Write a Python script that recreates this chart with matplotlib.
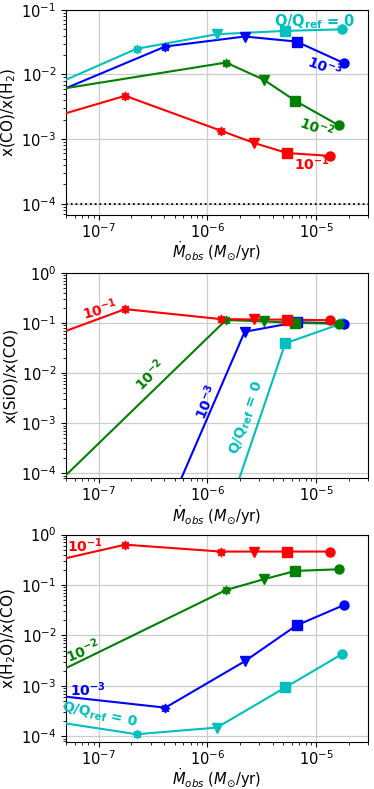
import numpy as np
import matplotlib
matplotlib.use("Agg")
import matplotlib.pyplot as plt

# mass-loss rates of the model points (first one is off the left edge)
x_red = [5e-8, 1.75e-7, 1.33e-6, 2.7e-6, 5.4e-6, 1.35e-5]
x_green = [5e-8, 1.48e-6, 3.3e-6, 6.45e-6, 1.62e-5]
x_blue = [5e-8, 4.1e-7, 2.2e-6, 6.6e-6, 1.8e-5]
x_cyan = [5e-8, 2.23e-7, 1.22e-6, 5.2e-6, 1.74e-5]

mk_red = ["", (8, 1, 0), (8, 1, 0), "v", "s", "o"]
mk_other = ["", (8, 1, 0), "v", "s", "o"]

# x(CO)/x(H2)
co_red = [2.52e-3, 4.68e-3, 1.35e-3, 8.7e-4, 6.1e-4, 5.5e-4]
co_green = [6.15e-3, 1.53e-2, 8.3e-3, 3.9e-3, 1.63e-3]
co_blue = [6.15e-3, 2.71e-2, 3.87e-2, 3.23e-2, 1.5e-2]
co_cyan = [8.3e-3, 2.5e-2, 4.2e-2, 4.73e-2, 5.0e-2]

# x(SiO)/x(CO)
sio_red = [0.0697, 0.19, 0.12, 0.118, 0.117, 0.114]
sio_green = [9.2e-5, 0.115, 0.108, 0.101, 0.097]
sio_blue = [1.5e-5, 1.45e-5, 0.067, 0.104, 0.098]
sio_cyan = [1e-6, 1e-6, 3.8e-6, 0.0394, 0.099]

# x(H2O)/x(CO)
h2o_red = [0.34, 0.63, 0.46, 0.46, 0.46, 0.46]
h2o_green = [2.25e-3, 0.0794, 0.13, 0.19, 0.205]
h2o_blue = [6.1e-4, 3.7e-4, 3.07e-3, 0.0158, 0.04]
h2o_cyan = [1.8e-4, 1.1e-4, 1.49e-4, 9.3e-4, 4.3e-3]

qlab = r"$\mathbf{Q/Q_{ref}}$ = 0"
lab1 = r"$\mathbf{10^{-1}}$"
lab2 = r"$\mathbf{10^{-2}}$"
lab3 = r"$\mathbf{10^{-3}}$"

fig = plt.figure(figsize=(3.74, 7.89), dpi=100)
ax1 = fig.add_axes([0.1765, 0.7275, 0.8075, 0.26])
ax2 = fig.add_axes([0.1765, 0.394, 0.8075, 0.26])
ax3 = fig.add_axes([0.1765, 0.0595, 0.8075, 0.263])


def draw(ax, xs, ys, col, mks):
    ax.plot(xs, ys, "-", color=col, lw=1.5, zorder=3)
    for i in range(len(xs)):
        if mks[i] == "":
            continue
        ax.plot(xs[i], ys[i], marker=mks[i], color=col, ms=6.5, ls="", zorder=4)


for ax, yr, yg, yb, yc in [(ax1, co_red, co_green, co_blue, co_cyan),
                           (ax2, sio_red, sio_green, sio_blue, sio_cyan),
                           (ax3, h2o_red, h2o_green, h2o_blue, h2o_cyan)]:
    draw(ax, x_cyan, yc, "c", mk_other)
    draw(ax, x_blue, yb, "b", mk_other)
    draw(ax, x_green, yg, "g", mk_other)
    draw(ax, x_red, yr, "r", mk_red)
    ax.set_xscale("log")
    ax.set_yscale("log")
    ax.set_xlim(5e-8, 3e-5)
    ax.grid(True, which="major", color="#cccccc", lw=0.9)
    ax.set_axisbelow(True)
    ax.tick_params(labelsize=10.5)
    ax.tick_params(axis="x", pad=2)
    ax.set_xlabel(r"$\dot{M}_{obs}$ ($M_{\odot}$/yr)", fontsize=10.5, labelpad=-1)

ax1.set_ylim(6.7e-5, 1e-1)
ax2.set_ylim(8e-5, 1)
ax3.set_ylim(7.7e-5, 1)

ax1.axhline(1e-4, color="k", ls=":", lw=1.3)

ax1.set_ylabel(r"x(CO)/x(H$_2$)", fontsize=11, labelpad=2)
ax2.set_ylabel("x(SiO)/x(CO)", fontsize=11, labelpad=2)
ax3.set_ylabel(r"x(H$_2$O)/x(CO)", fontsize=11, labelpad=2)

kw = dict(ha="center", va="center", fontsize=10, fontweight="bold")
ax1.text(9.6e-6, 0.066, qlab, color="c", fontsize=10.5, ha="center", va="center", fontweight="bold")
ax1.text(1.2e-5, 0.0133, lab3, color="b", rotation=-20, **kw)
ax1.text(1.02e-5, 1.5e-3, lab2, color="g", rotation=-20, **kw)
ax1.text(9.2e-6, 4.2e-4, lab1, color="r", **kw)

ax2.text(1.02e-7, 0.19, lab1, color="r", rotation=15, **kw)
ax2.text(2.95e-7, 9.1e-3, lab2, color="g", rotation=45, **kw)
ax2.text(9.7e-7, 2.6e-3, lab3, color="b", rotation=67, **kw)
ax2.text(2.3e-6, 1.3e-3, qlab, color="c", rotation=71, **kw)

ax3.text(7.4e-8, 0.6, lab1, color="r", **kw)
ax3.text(7.1e-8, 5e-3, lab2, color="g", rotation=22, **kw)
ax3.text(7.9e-8, 8.3e-4, lab3, color="b", **kw)
ax3.text(1.02e-7, 2.6e-4, qlab, color="c", rotation=-12, **kw)

plt.savefig("out.png", dpi=100)
